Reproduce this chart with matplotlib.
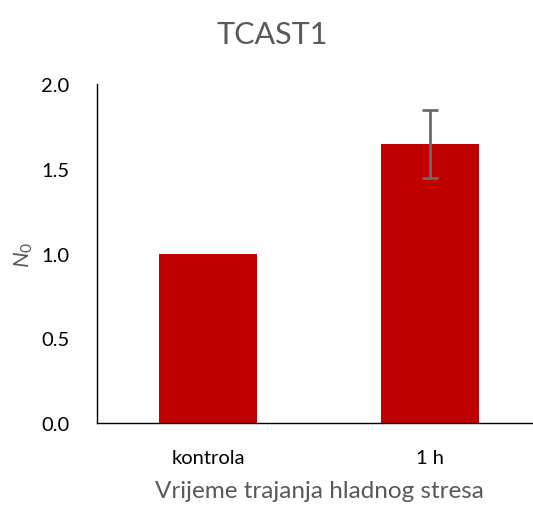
import matplotlib
matplotlib.use("Agg")
import matplotlib.pyplot as plt

categories = ["kontrola", "1 h"]
values = [1.0, 1.645]
errors = [0.0, 0.2]
yticks = [0.0, 0.5, 1.0, 1.5, 2.0]

plt.rcParams['font.family'] = ['Lato', 'DejaVu Sans']
plt.rcParams['mathtext.fontset'] = 'custom'
plt.rcParams['mathtext.it'] = 'Lato:italic'
plt.rcParams['mathtext.rm'] = 'Lato'

fig = plt.figure(figsize=(5.33, 5.06), dpi=100)
ax = fig.add_axes([97/533, 1 - 424/506, 444/533, 339/506])

x = range(len(categories))
ax.bar(x, values, width=0.44, color="#C00000")
ax.errorbar([1], [values[1]], yerr=[errors[1]], fmt="none", ecolor="#6b6b6b",
            elinewidth=2, capsize=6, capthick=2)

ax.set_xlim(-0.5, 1.5)
ax.set_ylim(0, 2.0)
ax.set_yticks(yticks)
ax.set_yticklabels([f"{v:.1f}" for v in yticks], fontsize=14.5)
ax.set_xticks(list(x))
ax.set_xticklabels(categories, fontsize=14.5)
ax.tick_params(axis='y', length=0, pad=20)
ax.tick_params(axis='x', length=0, pad=19)

for s in ["top", "right"]:
    ax.spines[s].set_visible(False)
for s in ["left", "bottom"]:
    ax.spines[s].set_linewidth(1.0)
    ax.spines[s].set_color("black")

ax.set_ylabel("$N_0$", fontsize=16, color="#595959", labelpad=4)
ax.set_xlabel("Vrijeme trajanja hladnog stresa", fontsize=17.5, color="#595959", labelpad=10)
fig.text(272/533, 1 - 35/506, "TCAST1", fontsize=22, color="#595959", ha="center", va="center")

fig.savefig("out.png", dpi=100)
